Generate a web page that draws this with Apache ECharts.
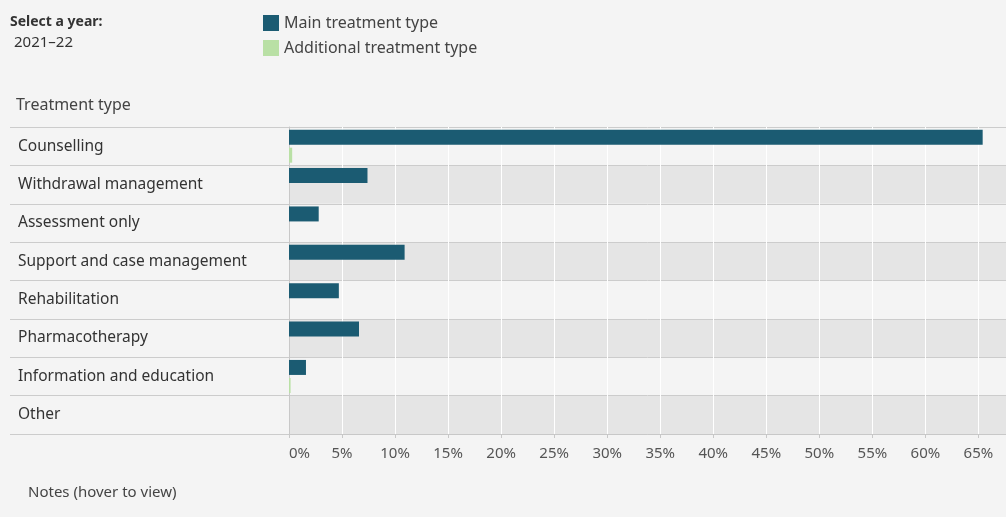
<!DOCTYPE html>
<html>
<head>
<meta charset="utf-8">
<script src="https://cdn.jsdelivr.net/npm/echarts@6/dist/echarts.min.js"></script>
<style>
  html, body { margin: 0; padding: 0; background: #f4f4f4; }
  #main { width: 1006px; height: 517px; }
</style>
</head>
<body>
<div id="main"></div>
<script>
// 治疗类型 (从上到下)
var categories = ['Counselling', 'Withdrawal management', 'Assessment only', 'Support and case management',
    'Rehabilitation', 'Pharmacotherapy', 'Information and education', 'Other'];
var mainValues = [65.4, 7.4, 2.8, 10.9, 4.7, 6.6, 1.6, 0];
var additionalValues = [0.3, 0, 0, 0, 0, 0, 0.15, 0];
var seriesNames = ['Main treatment type', 'Additional treatment type'];
var selectedYear = '2021\u201322';

var chart = echarts.init(document.getElementById('main'));
var font = 'Noto Sans';

var option = {
    animation: false,
    backgroundColor: '#f4f4f4',
    textStyle: { fontFamily: font },
    legend: {
        orient: 'vertical',
        left: 258,
        top: 10,
        itemWidth: 16,
        itemHeight: 16,
        itemGap: 9,
        icon: 'rect',
        textStyle: { fontSize: 16, color: '#444', fontFamily: font },
        data: seriesNames
    },
    graphic: [
        { type: 'text', left: 10, top: 15, style: { text: 'Select a year:', fontSize: 14, fontWeight: 'bold', fill: '#333', fontFamily: font } },
        { type: 'text', left: 14, top: 35, style: { text: selectedYear, fontSize: 15, fill: '#333', fontFamily: font } },
        { type: 'text', left: 16, top: 97, style: { text: 'Treatment type', fontSize: 16, fill: '#444', fontFamily: font } },
        { type: 'text', left: 28, top: 485, style: { text: 'Notes (hover to view)', fontSize: 15, fill: '#444', fontFamily: font } }
    ],
    grid: [
        { left: 10, width: 279, top: 127, bottom: 83 },   // 标签列
        { left: 289, right: 0, top: 127, bottom: 83 }     // 图表区
    ],
    xAxis: [
        { gridIndex: 0, type: 'value', show: false, min: 0, max: 1 },
        {
            gridIndex: 1,
            type: 'value',
            min: 0,
            max: 67.6,
            interval: 5,
            axisLine: { show: true, lineStyle: { color: '#c8c8c8' } },
            axisTick: { show: true, length: 4, lineStyle: { color: '#c8c8c8' } },
            axisLabel: {
                formatter: '{value}%',
                fontSize: 15,
                color: '#555',
                margin: 12,
                showMaxLabel: false,
                alignMinLabel: 'left'
            },
            splitLine: { show: true, lineStyle: { color: '#ffffff', width: 1 } }
        }
    ],
    yAxis: [
        {
            gridIndex: 0,
            type: 'category',
            inverse: true,
            data: categories,
            axisLine: { show: false },
            axisTick: { show: false },
            axisLabel: { inside: true, align: 'left', margin: 8, fontSize: 15.5, color: '#333' },
            splitLine: { show: true, lineStyle: { color: '#cccccc' } }
        },
        {
            gridIndex: 1,
            type: 'category',
            inverse: true,
            data: categories,
            axisLine: { show: true, lineStyle: { color: '#c8c8c8' } },
            axisTick: { show: false },
            axisLabel: { show: false },
            splitLine: { show: true, lineStyle: { color: '#cccccc' } },
            splitArea: { show: true, areaStyle: { color: ['#f4f4f4', '#e5e5e5'] } }
        }
    ],
    series: [
        {
            name: seriesNames[0],
            type: 'bar',
            xAxisIndex: 1,
            yAxisIndex: 1,
            data: mainValues,
            barWidth: 15,
            barGap: '20%',
            itemStyle: { color: '#1b5b72' }
        },
        {
            name: seriesNames[1],
            type: 'bar',
            xAxisIndex: 1,
            yAxisIndex: 1,
            data: additionalValues,
            barWidth: 15,
            barGap: '20%',
            itemStyle: { color: '#b9e0a5' }
        }
    ],
    color: ['#1b5b72', '#b9e0a5']
};

chart.setOption(option);
</script>
</body>
</html>
